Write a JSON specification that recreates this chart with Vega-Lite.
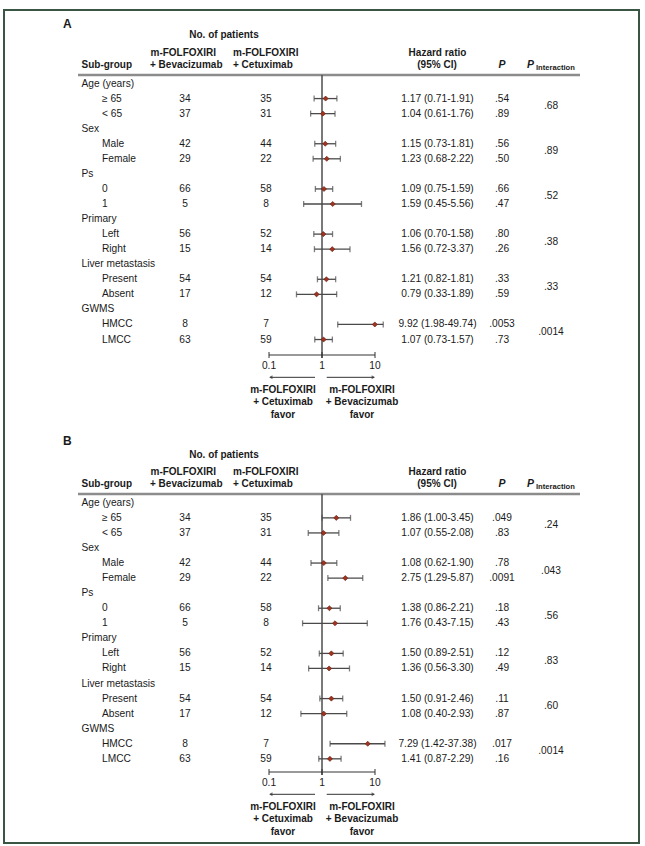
{
"$schema":"https://vega.github.io/schema/vega-lite/v6.json",
"width":635,"height":833,
"autosize":{"type":"none"},
"padding":{"left":4,"top":10,"right":6,"bottom":3},
"background":"white",
"config":{"view":{"stroke":"#3b5545","strokeWidth":2},"axis":{"disable":true},"legend":{"disable":true},
 "text":{"font":"Liberation Sans","fontSize":10.2,"color":"#1a1a1a","baseline":"middle"}},
"datasets":{
"ticks":[{"v":0.1,"t":"0.1"},{"v":1,"t":"1"},{"v":10,"t":"10"}],
"rows":[
{"panel":"A","row":1,"kind":"group","label":"Age (years)"},
{"panel":"A","row":2,"kind":"item","g":"age","label":"≥ 65","nb":34,"nc":35,"hr":1.17,"lo":0.71,"hi":1.91,"hip":1.91,"ci":"1.17 (0.71-1.91)","p":".54","pint":".68"},
{"panel":"A","row":3,"kind":"item","g":"age","label":"< 65","nb":37,"nc":31,"hr":1.04,"lo":0.61,"hi":1.76,"hip":1.76,"ci":"1.04 (0.61-1.76)","p":".89","pint":".68"},
{"panel":"A","row":4,"kind":"group","label":"Sex"},
{"panel":"A","row":5,"kind":"item","g":"sex","label":"Male","nb":42,"nc":44,"hr":1.15,"lo":0.73,"hi":1.81,"hip":1.81,"ci":"1.15 (0.73-1.81)","p":".56","pint":".89"},
{"panel":"A","row":6,"kind":"item","g":"sex","label":"Female","nb":29,"nc":22,"hr":1.23,"lo":0.68,"hi":2.22,"hip":2.22,"ci":"1.23 (0.68-2.22)","p":".50","pint":".89"},
{"panel":"A","row":7,"kind":"group","label":"Ps"},
{"panel":"A","row":8,"kind":"item","g":"ps","label":"0","nb":66,"nc":58,"hr":1.09,"lo":0.75,"hi":1.59,"hip":1.59,"ci":"1.09 (0.75-1.59)","p":".66","pint":".52"},
{"panel":"A","row":9,"kind":"item","g":"ps","label":"1","nb":5,"nc":8,"hr":1.59,"lo":0.45,"hi":5.56,"hip":5.56,"ci":"1.59 (0.45-5.56)","p":".47","pint":".52"},
{"panel":"A","row":10,"kind":"group","label":"Primary"},
{"panel":"A","row":11,"kind":"item","g":"prim","label":"Left","nb":56,"nc":52,"hr":1.06,"lo":0.70,"hi":1.58,"hip":1.58,"ci":"1.06 (0.70-1.58)","p":".80","pint":".38"},
{"panel":"A","row":12,"kind":"item","g":"prim","label":"Right","nb":15,"nc":14,"hr":1.56,"lo":0.72,"hi":3.37,"hip":3.37,"ci":"1.56 (0.72-3.37)","p":".26","pint":".38"},
{"panel":"A","row":13,"kind":"group","label":"Liver metastasis"},
{"panel":"A","row":14,"kind":"item","g":"liver","label":"Present","nb":54,"nc":54,"hr":1.21,"lo":0.82,"hi":1.81,"hip":1.81,"ci":"1.21 (0.82-1.81)","p":".33","pint":".33"},
{"panel":"A","row":15,"kind":"item","g":"liver","label":"Absent","nb":17,"nc":12,"hr":0.79,"lo":0.33,"hi":1.89,"hip":1.89,"ci":"0.79 (0.33-1.89)","p":".59","pint":".33"},
{"panel":"A","row":16,"kind":"group","label":"GWMS"},
{"panel":"A","row":17,"kind":"item","g":"gwms","label":"HMCC","nb":8,"nc":7,"hr":9.92,"lo":1.98,"hi":49.74,"hip":14.3,"ci":"9.92 (1.98-49.74)","p":".0053","pint":".0014"},
{"panel":"A","row":18,"kind":"item","g":"gwms","label":"LMCC","nb":63,"nc":59,"hr":1.07,"lo":0.73,"hi":1.57,"hip":1.57,"ci":"1.07 (0.73-1.57)","p":".73","pint":".0014"},
{"panel":"B","row":1,"kind":"group","label":"Age (years)"},
{"panel":"B","row":2,"kind":"item","g":"age","label":"≥ 65","nb":34,"nc":35,"hr":1.86,"lo":1.00,"hi":3.45,"hip":3.45,"ci":"1.86 (1.00-3.45)","p":".049","pint":".24"},
{"panel":"B","row":3,"kind":"item","g":"age","label":"< 65","nb":37,"nc":31,"hr":1.07,"lo":0.55,"hi":2.08,"hip":2.08,"ci":"1.07 (0.55-2.08)","p":".83","pint":".24"},
{"panel":"B","row":4,"kind":"group","label":"Sex"},
{"panel":"B","row":5,"kind":"item","g":"sex","label":"Male","nb":42,"nc":44,"hr":1.08,"lo":0.62,"hi":1.90,"hip":1.90,"ci":"1.08 (0.62-1.90)","p":".78","pint":".043"},
{"panel":"B","row":6,"kind":"item","g":"sex","label":"Female","nb":29,"nc":22,"hr":2.75,"lo":1.29,"hi":5.87,"hip":5.87,"ci":"2.75 (1.29-5.87)","p":".0091","pint":".043"},
{"panel":"B","row":7,"kind":"group","label":"Ps"},
{"panel":"B","row":8,"kind":"item","g":"ps","label":"0","nb":66,"nc":58,"hr":1.38,"lo":0.86,"hi":2.21,"hip":2.21,"ci":"1.38 (0.86-2.21)","p":".18","pint":".56"},
{"panel":"B","row":9,"kind":"item","g":"ps","label":"1","nb":5,"nc":8,"hr":1.76,"lo":0.43,"hi":7.15,"hip":7.15,"ci":"1.76 (0.43-7.15)","p":".43","pint":".56"},
{"panel":"B","row":10,"kind":"group","label":"Primary"},
{"panel":"B","row":11,"kind":"item","g":"prim","label":"Left","nb":56,"nc":52,"hr":1.50,"lo":0.89,"hi":2.51,"hip":2.51,"ci":"1.50 (0.89-2.51)","p":".12","pint":".83"},
{"panel":"B","row":12,"kind":"item","g":"prim","label":"Right","nb":15,"nc":14,"hr":1.36,"lo":0.56,"hi":3.30,"hip":3.30,"ci":"1.36 (0.56-3.30)","p":".49","pint":".83"},
{"panel":"B","row":13,"kind":"group","label":"Liver metastasis"},
{"panel":"B","row":14,"kind":"item","g":"liver","label":"Present","nb":54,"nc":54,"hr":1.50,"lo":0.91,"hi":2.46,"hip":2.46,"ci":"1.50 (0.91-2.46)","p":".11","pint":".60"},
{"panel":"B","row":15,"kind":"item","g":"liver","label":"Absent","nb":17,"nc":12,"hr":1.08,"lo":0.40,"hi":2.93,"hip":2.93,"ci":"1.08 (0.40-2.93)","p":".87","pint":".60"},
{"panel":"B","row":16,"kind":"group","label":"GWMS"},
{"panel":"B","row":17,"kind":"item","g":"gwms","label":"HMCC","nb":8,"nc":7,"hr":7.29,"lo":1.42,"hi":37.38,"hip":15.4,"ci":"7.29 (1.42-37.38)","p":".017","pint":".0014"},
{"panel":"B","row":18,"kind":"item","g":"gwms","label":"LMCC","nb":63,"nc":59,"hr":1.41,"lo":0.87,"hi":2.29,"hip":2.29,"ci":"1.41 (0.87-2.29)","p":".16","pint":".0014"}
]},
"layer":[
{
"layer":[
{"layer":[
{"data":{"values":[{}]},"mark":{"type":"text","text":"A","align":"left","fontWeight":"bold","fontSize":12},"encoding":{"x":{"datum":63,"type":"quantitative","scale":{"domain":[4,639],"nice":false}},"y":{"datum":-2.984,"type":"quantitative","scale":{"domain":[-3.881,51.431],"reverse":true,"nice":false}}}},
{"data":{"values":[{}]},"mark":{"type":"text","text":"No. of patients","align":"center","fontWeight":"bold","fontSize":10},"encoding":{"x":{"datum":224,"type":"quantitative","scale":{"domain":[4,639],"nice":false}},"y":{"datum":-2.220,"type":"quantitative","scale":{"domain":[-3.881,51.431],"reverse":true,"nice":false}}}},
{"data":{"values":[{}]},"mark":{"type":"text","text":"m-FOLFOXIRI","align":"left","fontWeight":"bold","fontSize":10},"encoding":{"x":{"datum":150.5,"type":"quantitative","scale":{"domain":[4,639],"nice":false}},"y":{"datum":-1.058,"type":"quantitative","scale":{"domain":[-3.881,51.431],"reverse":true,"nice":false}}}},
{"data":{"values":[{}]},"mark":{"type":"text","text":"m-FOLFOXIRI","align":"left","fontWeight":"bold","fontSize":10},"encoding":{"x":{"datum":233,"type":"quantitative","scale":{"domain":[4,639],"nice":false}},"y":{"datum":-1.058,"type":"quantitative","scale":{"domain":[-3.881,51.431],"reverse":true,"nice":false}}}},
{"data":{"values":[{}]},"mark":{"type":"text","text":"Hazard ratio","align":"center","fontWeight":"bold","fontSize":10},"encoding":{"x":{"datum":437.5,"type":"quantitative","scale":{"domain":[4,639],"nice":false}},"y":{"datum":-1.058,"type":"quantitative","scale":{"domain":[-3.881,51.431],"reverse":true,"nice":false}}}},
{"data":{"values":[{}]},"mark":{"type":"text","text":"Sub-group","align":"left","fontWeight":"bold","fontSize":10},"encoding":{"x":{"datum":81.5,"type":"quantitative","scale":{"domain":[4,639],"nice":false}},"y":{"datum":-0.262,"type":"quantitative","scale":{"domain":[-3.881,51.431],"reverse":true,"nice":false}}}},
{"data":{"values":[{}]},"mark":{"type":"text","text":"+ Bevacizumab","align":"left","fontWeight":"bold","fontSize":10},"encoding":{"x":{"datum":150,"type":"quantitative","scale":{"domain":[4,639],"nice":false}},"y":{"datum":-0.262,"type":"quantitative","scale":{"domain":[-3.881,51.431],"reverse":true,"nice":false}}}},
{"data":{"values":[{}]},"mark":{"type":"text","text":"+ Cetuximab","align":"left","fontWeight":"bold","fontSize":10},"encoding":{"x":{"datum":233,"type":"quantitative","scale":{"domain":[4,639],"nice":false}},"y":{"datum":-0.262,"type":"quantitative","scale":{"domain":[-3.881,51.431],"reverse":true,"nice":false}}}},
{"data":{"values":[{}]},"mark":{"type":"text","text":"(95% CI)","align":"center","fontWeight":"bold","fontSize":10},"encoding":{"x":{"datum":437,"type":"quantitative","scale":{"domain":[4,639],"nice":false}},"y":{"datum":-0.262,"type":"quantitative","scale":{"domain":[-3.881,51.431],"reverse":true,"nice":false}}}},
{"data":{"values":[{}]},"mark":{"type":"text","text":"P","align":"center","fontWeight":"bold","fontStyle":"italic","fontSize":10.5},"encoding":{"x":{"datum":502,"type":"quantitative","scale":{"domain":[4,639],"nice":false}},"y":{"datum":-0.262,"type":"quantitative","scale":{"domain":[-3.881,51.431],"reverse":true,"nice":false}}}},
{"data":{"values":[{}]},"mark":{"type":"text","text":"P","align":"left","fontWeight":"bold","fontStyle":"italic","fontSize":10.5},"encoding":{"x":{"datum":527,"type":"quantitative","scale":{"domain":[4,639],"nice":false}},"y":{"datum":-0.262,"type":"quantitative","scale":{"domain":[-3.881,51.431],"reverse":true,"nice":false}}}},
{"data":{"values":[{}]},"mark":{"type":"text","text":"Interaction","align":"left","fontWeight":"bold","fontSize":7.6},"encoding":{"x":{"datum":536,"type":"quantitative","scale":{"domain":[4,639],"nice":false}},"y":{"datum":-0.062,"type":"quantitative","scale":{"domain":[-3.881,51.431],"reverse":true,"nice":false}}}},
{"data":{"values":[{}]},"mark":{"type":"rule","color":"#8c8c8c","strokeWidth":2.5},"encoding":{"x":{"datum":78,"type":"quantitative","scale":{"domain":[4,639],"nice":false}},"x2":{"datum":580},"y":{"datum":0.436,"type":"quantitative","scale":{"domain":[-3.881,51.431],"reverse":true,"nice":false}}}},
{"data":{"values":[{}]},"mark":{"type":"text","text":"m-FOLFOXIRI","align":"center","fontWeight":"bold","fontSize":10},"encoding":{"x":{"datum":283,"type":"quantitative","scale":{"domain":[4,639],"nice":false}},"y":{"datum":21.352,"type":"quantitative","scale":{"domain":[-3.881,51.431],"reverse":true,"nice":false}}}},
{"data":{"values":[{}]},"mark":{"type":"text","text":"+ Cetuximab","align":"center","fontWeight":"bold","fontSize":10},"encoding":{"x":{"datum":283,"type":"quantitative","scale":{"domain":[4,639],"nice":false}},"y":{"datum":22.149,"type":"quantitative","scale":{"domain":[-3.881,51.431],"reverse":true,"nice":false}}}},
{"data":{"values":[{}]},"mark":{"type":"text","text":"favor","align":"center","fontWeight":"bold","fontSize":10},"encoding":{"x":{"datum":283,"type":"quantitative","scale":{"domain":[4,639],"nice":false}},"y":{"datum":22.979,"type":"quantitative","scale":{"domain":[-3.881,51.431],"reverse":true,"nice":false}}}},
{"data":{"values":[{}]},"mark":{"type":"text","text":"m-FOLFOXIRI","align":"center","fontWeight":"bold","fontSize":10},"encoding":{"x":{"datum":362,"type":"quantitative","scale":{"domain":[4,639],"nice":false}},"y":{"datum":21.352,"type":"quantitative","scale":{"domain":[-3.881,51.431],"reverse":true,"nice":false}}}},
{"data":{"values":[{}]},"mark":{"type":"text","text":"+ Bevacizumab","align":"center","fontWeight":"bold","fontSize":10},"encoding":{"x":{"datum":362,"type":"quantitative","scale":{"domain":[4,639],"nice":false}},"y":{"datum":22.149,"type":"quantitative","scale":{"domain":[-3.881,51.431],"reverse":true,"nice":false}}}},
{"data":{"values":[{}]},"mark":{"type":"text","text":"favor","align":"center","fontWeight":"bold","fontSize":10},"encoding":{"x":{"datum":362,"type":"quantitative","scale":{"domain":[4,639],"nice":false}},"y":{"datum":22.979,"type":"quantitative","scale":{"domain":[-3.881,51.431],"reverse":true,"nice":false}}}},
{"data":{"name":"rows"},"transform":[{"filter":"datum.panel==='A' && datum.kind==='group'"}],"mark":{"type":"text","align":"left"},"encoding":{"x":{"datum":81.5,"type":"quantitative","scale":{"domain":[4,639],"nice":false}},"y":{"field":"row","type":"quantitative","scale":{"domain":[-3.881,51.431],"reverse":true,"nice":false}},"text":{"field":"label"}}},
{"data":{"name":"rows"},"transform":[{"filter":"datum.panel==='A' && datum.kind==='item'"}],"mark":{"type":"text","align":"left"},"encoding":{"x":{"datum":102,"type":"quantitative","scale":{"domain":[4,639],"nice":false}},"y":{"field":"row","type":"quantitative","scale":{"domain":[-3.881,51.431],"reverse":true,"nice":false}},"text":{"field":"label"}}},
{"data":{"name":"rows"},"transform":[{"filter":"datum.panel==='A' && datum.kind==='item'"}],"mark":{"type":"text","align":"center"},"encoding":{"x":{"datum":185,"type":"quantitative","scale":{"domain":[4,639],"nice":false}},"y":{"field":"row","type":"quantitative","scale":{"domain":[-3.881,51.431],"reverse":true,"nice":false}},"text":{"field":"nb"}}},
{"data":{"name":"rows"},"transform":[{"filter":"datum.panel==='A' && datum.kind==='item'"}],"mark":{"type":"text","align":"center"},"encoding":{"x":{"datum":266,"type":"quantitative","scale":{"domain":[4,639],"nice":false}},"y":{"field":"row","type":"quantitative","scale":{"domain":[-3.881,51.431],"reverse":true,"nice":false}},"text":{"field":"nc"}}},
{"data":{"name":"rows"},"transform":[{"filter":"datum.panel==='A' && datum.kind==='item'"}],"mark":{"type":"text","align":"center"},"encoding":{"x":{"datum":437.5,"type":"quantitative","scale":{"domain":[4,639],"nice":false}},"y":{"field":"row","type":"quantitative","scale":{"domain":[-3.881,51.431],"reverse":true,"nice":false}},"text":{"field":"ci"}}},
{"data":{"name":"rows"},"transform":[{"filter":"datum.panel==='A' && datum.kind==='item'"}],"mark":{"type":"text","align":"center"},"encoding":{"x":{"datum":502,"type":"quantitative","scale":{"domain":[4,639],"nice":false}},"y":{"field":"row","type":"quantitative","scale":{"domain":[-3.881,51.431],"reverse":true,"nice":false}},"text":{"field":"p"}}},
{"data":{"name":"rows"},"transform":[{"filter":"datum.panel==='A' && datum.kind==='item'"},{"aggregate":[{"op":"mean","field":"row","as":"row"}],"groupby":["g","pint"]}],"mark":{"type":"text","align":"center"},"encoding":{"x":{"datum":551,"type":"quantitative","scale":{"domain":[4,639],"nice":false}},"y":{"field":"row","type":"quantitative","scale":{"domain":[-3.881,51.431],"reverse":true,"nice":false}},"text":{"field":"pint"}}}
]},
{"layer":[
{"data":{"values":[{}]},"mark":{"type":"rule","color":"#4d4d4d","strokeWidth":1.5},"encoding":{"x":{"datum":1,"type":"quantitative","scale":{"type":"log","domain":[0.000001,957000],"nice":false}},"y":{"datum":0.436,"type":"quantitative","scale":{"domain":[-3.881,51.431],"reverse":true,"nice":false}},"y2":{"datum":19.227}}},
{"data":{"values":[{}]},"mark":{"type":"rule","color":"#333","strokeWidth":1},"encoding":{"x":{"datum":0.1,"type":"quantitative","scale":{"type":"log","domain":[0.000001,957000],"nice":false}},"x2":{"datum":10},"y":{"datum":19.028,"type":"quantitative","scale":{"domain":[-3.881,51.431],"reverse":true,"nice":false}}}},
{"data":{"name":"ticks"},"mark":{"type":"rule","color":"#333","strokeWidth":1},"encoding":{"x":{"field":"v","type":"quantitative","scale":{"type":"log","domain":[0.000001,957000],"nice":false}},"y":{"datum":18.829,"type":"quantitative","scale":{"domain":[-3.881,51.431],"reverse":true,"nice":false}},"y2":{"datum":19.227}}},
{"data":{"name":"ticks"},"mark":{"type":"text","align":"center"},"encoding":{"x":{"field":"v","type":"quantitative","scale":{"type":"log","domain":[0.000001,957000],"nice":false}},"y":{"datum":19.758,"type":"quantitative","scale":{"domain":[-3.881,51.431],"reverse":true,"nice":false}},"text":{"field":"t"}}},
{"data":{"values":[{}]},"mark":{"type":"rule","color":"#333","strokeWidth":1},"encoding":{"x":{"datum":0.105,"type":"quantitative","scale":{"type":"log","domain":[0.000001,957000],"nice":false}},"x2":{"datum":0.738},"y":{"datum":20.509,"type":"quantitative","scale":{"domain":[-3.881,51.431],"reverse":true,"nice":false}}}},
{"data":{"values":[{}]},"mark":{"type":"rule","color":"#333","strokeWidth":1},"encoding":{"x":{"datum":1.227,"type":"quantitative","scale":{"type":"log","domain":[0.000001,957000],"nice":false}},"x2":{"datum":9.6},"y":{"datum":20.509,"type":"quantitative","scale":{"domain":[-3.881,51.431],"reverse":true,"nice":false}}}},
{"data":{"values":[{}]},"mark":{"type":"point","shape":"triangle-left","filled":true,"size":16,"color":"#333"},"encoding":{"x":{"datum":0.108,"type":"quantitative","scale":{"type":"log","domain":[0.000001,957000],"nice":false}},"y":{"datum":20.509,"type":"quantitative","scale":{"domain":[-3.881,51.431],"reverse":true,"nice":false}}}},
{"data":{"values":[{}]},"mark":{"type":"point","shape":"triangle-right","filled":true,"size":16,"color":"#333"},"encoding":{"x":{"datum":9.3,"type":"quantitative","scale":{"type":"log","domain":[0.000001,957000],"nice":false}},"y":{"datum":20.509,"type":"quantitative","scale":{"domain":[-3.881,51.431],"reverse":true,"nice":false}}}},
{"data":{"name":"rows"},"transform":[{"filter":"datum.panel==='A' && datum.kind==='item'"}],"mark":{"type":"rule","color":"#4a4a4a","strokeWidth":1.3},"encoding":{"x":{"field":"lo","type":"quantitative","scale":{"type":"log","domain":[0.000001,957000],"nice":false}},"x2":{"field":"hip"},"y":{"field":"row","type":"quantitative","scale":{"domain":[-3.881,51.431],"reverse":true,"nice":false}}}},
{"data":{"name":"rows"},"transform":[{"filter":"datum.panel==='A' && datum.kind==='item'"}],"mark":{"type":"tick","orient":"vertical","size":6,"thickness":1.3,"color":"#4a4a4a"},"encoding":{"x":{"field":"lo","type":"quantitative","scale":{"type":"log","domain":[0.000001,957000],"nice":false}},"y":{"field":"row","type":"quantitative","scale":{"domain":[-3.881,51.431],"reverse":true,"nice":false}}}},
{"data":{"name":"rows"},"transform":[{"filter":"datum.panel==='A' && datum.kind==='item'"}],"mark":{"type":"tick","orient":"vertical","size":6,"thickness":1.3,"color":"#4a4a4a"},"encoding":{"x":{"field":"hip","type":"quantitative","scale":{"type":"log","domain":[0.000001,957000],"nice":false}},"y":{"field":"row","type":"quantitative","scale":{"domain":[-3.881,51.431],"reverse":true,"nice":false}}}},
{"data":{"name":"rows"},"transform":[{"filter":"datum.panel==='A' && datum.kind==='item'"}],"mark":{"type":"point","shape":"diamond","filled":true,"size":26,"color":"#a3321f","stroke":"#5b1d10","strokeWidth":0.6,"opacity":1},"encoding":{"x":{"field":"hr","type":"quantitative","scale":{"type":"log","domain":[0.000001,957000],"nice":false}},"y":{"field":"row","type":"quantitative","scale":{"domain":[-3.881,51.431],"reverse":true,"nice":false}}}}
]}
],
"resolve":{"scale":{"x":"independent"}}
},
{
"layer":[
{"layer":[
{"data":{"values":[{}]},"mark":{"type":"text","text":"B","align":"left","fontWeight":"bold","fontSize":12},"encoding":{"x":{"datum":63,"type":"quantitative","scale":{"domain":[4,639],"nice":false}},"y":{"datum":-3.104,"type":"quantitative","scale":{"domain":[-31.723,23.589],"reverse":true,"nice":false}}}},
{"data":{"values":[{}]},"mark":{"type":"text","text":"No. of patients","align":"center","fontWeight":"bold","fontSize":10},"encoding":{"x":{"datum":224,"type":"quantitative","scale":{"domain":[4,639],"nice":false}},"y":{"datum":-2.174,"type":"quantitative","scale":{"domain":[-31.723,23.589],"reverse":true,"nice":false}}}},
{"data":{"values":[{}]},"mark":{"type":"text","text":"m-FOLFOXIRI","align":"left","fontWeight":"bold","fontSize":10},"encoding":{"x":{"datum":150.5,"type":"quantitative","scale":{"domain":[4,639],"nice":false}},"y":{"datum":-1.078,"type":"quantitative","scale":{"domain":[-31.723,23.589],"reverse":true,"nice":false}}}},
{"data":{"values":[{}]},"mark":{"type":"text","text":"m-FOLFOXIRI","align":"left","fontWeight":"bold","fontSize":10},"encoding":{"x":{"datum":233,"type":"quantitative","scale":{"domain":[4,639],"nice":false}},"y":{"datum":-1.078,"type":"quantitative","scale":{"domain":[-31.723,23.589],"reverse":true,"nice":false}}}},
{"data":{"values":[{}]},"mark":{"type":"text","text":"Hazard ratio","align":"center","fontWeight":"bold","fontSize":10},"encoding":{"x":{"datum":437.5,"type":"quantitative","scale":{"domain":[4,639],"nice":false}},"y":{"datum":-1.078,"type":"quantitative","scale":{"domain":[-31.723,23.589],"reverse":true,"nice":false}}}},
{"data":{"values":[{}]},"mark":{"type":"text","text":"Sub-group","align":"left","fontWeight":"bold","fontSize":10},"encoding":{"x":{"datum":81.5,"type":"quantitative","scale":{"domain":[4,639],"nice":false}},"y":{"datum":-0.248,"type":"quantitative","scale":{"domain":[-31.723,23.589],"reverse":true,"nice":false}}}},
{"data":{"values":[{}]},"mark":{"type":"text","text":"+ Bevacizumab","align":"left","fontWeight":"bold","fontSize":10},"encoding":{"x":{"datum":150,"type":"quantitative","scale":{"domain":[4,639],"nice":false}},"y":{"datum":-0.248,"type":"quantitative","scale":{"domain":[-31.723,23.589],"reverse":true,"nice":false}}}},
{"data":{"values":[{}]},"mark":{"type":"text","text":"+ Cetuximab","align":"left","fontWeight":"bold","fontSize":10},"encoding":{"x":{"datum":233,"type":"quantitative","scale":{"domain":[4,639],"nice":false}},"y":{"datum":-0.248,"type":"quantitative","scale":{"domain":[-31.723,23.589],"reverse":true,"nice":false}}}},
{"data":{"values":[{}]},"mark":{"type":"text","text":"(95% CI)","align":"center","fontWeight":"bold","fontSize":10},"encoding":{"x":{"datum":437,"type":"quantitative","scale":{"domain":[4,639],"nice":false}},"y":{"datum":-0.248,"type":"quantitative","scale":{"domain":[-31.723,23.589],"reverse":true,"nice":false}}}},
{"data":{"values":[{}]},"mark":{"type":"text","text":"P","align":"center","fontWeight":"bold","fontStyle":"italic","fontSize":10.5},"encoding":{"x":{"datum":502,"type":"quantitative","scale":{"domain":[4,639],"nice":false}},"y":{"datum":-0.248,"type":"quantitative","scale":{"domain":[-31.723,23.589],"reverse":true,"nice":false}}}},
{"data":{"values":[{}]},"mark":{"type":"text","text":"P","align":"left","fontWeight":"bold","fontStyle":"italic","fontSize":10.5},"encoding":{"x":{"datum":527,"type":"quantitative","scale":{"domain":[4,639],"nice":false}},"y":{"datum":-0.248,"type":"quantitative","scale":{"domain":[-31.723,23.589],"reverse":true,"nice":false}}}},
{"data":{"values":[{}]},"mark":{"type":"text","text":"Interaction","align":"left","fontWeight":"bold","fontSize":7.6},"encoding":{"x":{"datum":536,"type":"quantitative","scale":{"domain":[4,639],"nice":false}},"y":{"datum":-0.049,"type":"quantitative","scale":{"domain":[-31.723,23.589],"reverse":true,"nice":false}}}},
{"data":{"values":[{}]},"mark":{"type":"rule","color":"#8c8c8c","strokeWidth":2.5},"encoding":{"x":{"datum":78,"type":"quantitative","scale":{"domain":[4,639],"nice":false}},"x2":{"datum":580},"y":{"datum":0.416,"type":"quantitative","scale":{"domain":[-31.723,23.589],"reverse":true,"nice":false}}}},
{"data":{"values":[{}]},"mark":{"type":"text","text":"m-FOLFOXIRI","align":"center","fontWeight":"bold","fontSize":10},"encoding":{"x":{"datum":283,"type":"quantitative","scale":{"domain":[4,639],"nice":false}},"y":{"datum":21.199,"type":"quantitative","scale":{"domain":[-31.723,23.589],"reverse":true,"nice":false}}}},
{"data":{"values":[{}]},"mark":{"type":"text","text":"+ Cetuximab","align":"center","fontWeight":"bold","fontSize":10},"encoding":{"x":{"datum":283,"type":"quantitative","scale":{"domain":[4,639],"nice":false}},"y":{"datum":21.996,"type":"quantitative","scale":{"domain":[-31.723,23.589],"reverse":true,"nice":false}}}},
{"data":{"values":[{}]},"mark":{"type":"text","text":"favor","align":"center","fontWeight":"bold","fontSize":10},"encoding":{"x":{"datum":283,"type":"quantitative","scale":{"domain":[4,639],"nice":false}},"y":{"datum":22.826,"type":"quantitative","scale":{"domain":[-31.723,23.589],"reverse":true,"nice":false}}}},
{"data":{"values":[{}]},"mark":{"type":"text","text":"m-FOLFOXIRI","align":"center","fontWeight":"bold","fontSize":10},"encoding":{"x":{"datum":362,"type":"quantitative","scale":{"domain":[4,639],"nice":false}},"y":{"datum":21.199,"type":"quantitative","scale":{"domain":[-31.723,23.589],"reverse":true,"nice":false}}}},
{"data":{"values":[{}]},"mark":{"type":"text","text":"+ Bevacizumab","align":"center","fontWeight":"bold","fontSize":10},"encoding":{"x":{"datum":362,"type":"quantitative","scale":{"domain":[4,639],"nice":false}},"y":{"datum":21.996,"type":"quantitative","scale":{"domain":[-31.723,23.589],"reverse":true,"nice":false}}}},
{"data":{"values":[{}]},"mark":{"type":"text","text":"favor","align":"center","fontWeight":"bold","fontSize":10},"encoding":{"x":{"datum":362,"type":"quantitative","scale":{"domain":[4,639],"nice":false}},"y":{"datum":22.826,"type":"quantitative","scale":{"domain":[-31.723,23.589],"reverse":true,"nice":false}}}},
{"data":{"name":"rows"},"transform":[{"filter":"datum.panel==='B' && datum.kind==='group'"}],"mark":{"type":"text","align":"left"},"encoding":{"x":{"datum":81.5,"type":"quantitative","scale":{"domain":[4,639],"nice":false}},"y":{"field":"row","type":"quantitative","scale":{"domain":[-31.723,23.589],"reverse":true,"nice":false}},"text":{"field":"label"}}},
{"data":{"name":"rows"},"transform":[{"filter":"datum.panel==='B' && datum.kind==='item'"}],"mark":{"type":"text","align":"left"},"encoding":{"x":{"datum":102,"type":"quantitative","scale":{"domain":[4,639],"nice":false}},"y":{"field":"row","type":"quantitative","scale":{"domain":[-31.723,23.589],"reverse":true,"nice":false}},"text":{"field":"label"}}},
{"data":{"name":"rows"},"transform":[{"filter":"datum.panel==='B' && datum.kind==='item'"}],"mark":{"type":"text","align":"center"},"encoding":{"x":{"datum":185,"type":"quantitative","scale":{"domain":[4,639],"nice":false}},"y":{"field":"row","type":"quantitative","scale":{"domain":[-31.723,23.589],"reverse":true,"nice":false}},"text":{"field":"nb"}}},
{"data":{"name":"rows"},"transform":[{"filter":"datum.panel==='B' && datum.kind==='item'"}],"mark":{"type":"text","align":"center"},"encoding":{"x":{"datum":266,"type":"quantitative","scale":{"domain":[4,639],"nice":false}},"y":{"field":"row","type":"quantitative","scale":{"domain":[-31.723,23.589],"reverse":true,"nice":false}},"text":{"field":"nc"}}},
{"data":{"name":"rows"},"transform":[{"filter":"datum.panel==='B' && datum.kind==='item'"}],"mark":{"type":"text","align":"center"},"encoding":{"x":{"datum":437.5,"type":"quantitative","scale":{"domain":[4,639],"nice":false}},"y":{"field":"row","type":"quantitative","scale":{"domain":[-31.723,23.589],"reverse":true,"nice":false}},"text":{"field":"ci"}}},
{"data":{"name":"rows"},"transform":[{"filter":"datum.panel==='B' && datum.kind==='item'"}],"mark":{"type":"text","align":"center"},"encoding":{"x":{"datum":502,"type":"quantitative","scale":{"domain":[4,639],"nice":false}},"y":{"field":"row","type":"quantitative","scale":{"domain":[-31.723,23.589],"reverse":true,"nice":false}},"text":{"field":"p"}}},
{"data":{"name":"rows"},"transform":[{"filter":"datum.panel==='B' && datum.kind==='item'"},{"aggregate":[{"op":"mean","field":"row","as":"row"}],"groupby":["g","pint"]}],"mark":{"type":"text","align":"center"},"encoding":{"x":{"datum":551,"type":"quantitative","scale":{"domain":[4,639],"nice":false}},"y":{"field":"row","type":"quantitative","scale":{"domain":[-31.723,23.589],"reverse":true,"nice":false}},"text":{"field":"pint"}}}
]},
{"layer":[
{"data":{"values":[{}]},"mark":{"type":"rule","color":"#4d4d4d","strokeWidth":1.5},"encoding":{"x":{"datum":1,"type":"quantitative","scale":{"type":"log","domain":[0.000001,957000],"nice":false}},"y":{"datum":0.416,"type":"quantitative","scale":{"domain":[-31.723,23.589],"reverse":true,"nice":false}},"y2":{"datum":19.074}}},
{"data":{"values":[{}]},"mark":{"type":"rule","color":"#333","strokeWidth":1},"encoding":{"x":{"datum":0.1,"type":"quantitative","scale":{"type":"log","domain":[0.000001,957000],"nice":false}},"x2":{"datum":10},"y":{"datum":18.875,"type":"quantitative","scale":{"domain":[-31.723,23.589],"reverse":true,"nice":false}}}},
{"data":{"name":"ticks"},"mark":{"type":"rule","color":"#333","strokeWidth":1},"encoding":{"x":{"field":"v","type":"quantitative","scale":{"type":"log","domain":[0.000001,957000],"nice":false}},"y":{"datum":18.676,"type":"quantitative","scale":{"domain":[-31.723,23.589],"reverse":true,"nice":false}},"y2":{"datum":19.074}}},
{"data":{"name":"ticks"},"mark":{"type":"text","align":"center"},"encoding":{"x":{"field":"v","type":"quantitative","scale":{"type":"log","domain":[0.000001,957000],"nice":false}},"y":{"datum":19.606,"type":"quantitative","scale":{"domain":[-31.723,23.589],"reverse":true,"nice":false}},"text":{"field":"t"}}},
{"data":{"values":[{}]},"mark":{"type":"rule","color":"#333","strokeWidth":1},"encoding":{"x":{"datum":0.105,"type":"quantitative","scale":{"type":"log","domain":[0.000001,957000],"nice":false}},"x2":{"datum":0.738},"y":{"datum":20.356,"type":"quantitative","scale":{"domain":[-31.723,23.589],"reverse":true,"nice":false}}}},
{"data":{"values":[{}]},"mark":{"type":"rule","color":"#333","strokeWidth":1},"encoding":{"x":{"datum":1.227,"type":"quantitative","scale":{"type":"log","domain":[0.000001,957000],"nice":false}},"x2":{"datum":9.6},"y":{"datum":20.356,"type":"quantitative","scale":{"domain":[-31.723,23.589],"reverse":true,"nice":false}}}},
{"data":{"values":[{}]},"mark":{"type":"point","shape":"triangle-left","filled":true,"size":16,"color":"#333"},"encoding":{"x":{"datum":0.108,"type":"quantitative","scale":{"type":"log","domain":[0.000001,957000],"nice":false}},"y":{"datum":20.356,"type":"quantitative","scale":{"domain":[-31.723,23.589],"reverse":true,"nice":false}}}},
{"data":{"values":[{}]},"mark":{"type":"point","shape":"triangle-right","filled":true,"size":16,"color":"#333"},"encoding":{"x":{"datum":9.3,"type":"quantitative","scale":{"type":"log","domain":[0.000001,957000],"nice":false}},"y":{"datum":20.356,"type":"quantitative","scale":{"domain":[-31.723,23.589],"reverse":true,"nice":false}}}},
{"data":{"name":"rows"},"transform":[{"filter":"datum.panel==='B' && datum.kind==='item'"}],"mark":{"type":"rule","color":"#4a4a4a","strokeWidth":1.3},"encoding":{"x":{"field":"lo","type":"quantitative","scale":{"type":"log","domain":[0.000001,957000],"nice":false}},"x2":{"field":"hip"},"y":{"field":"row","type":"quantitative","scale":{"domain":[-31.723,23.589],"reverse":true,"nice":false}}}},
{"data":{"name":"rows"},"transform":[{"filter":"datum.panel==='B' && datum.kind==='item'"}],"mark":{"type":"tick","orient":"vertical","size":6,"thickness":1.3,"color":"#4a4a4a"},"encoding":{"x":{"field":"lo","type":"quantitative","scale":{"type":"log","domain":[0.000001,957000],"nice":false}},"y":{"field":"row","type":"quantitative","scale":{"domain":[-31.723,23.589],"reverse":true,"nice":false}}}},
{"data":{"name":"rows"},"transform":[{"filter":"datum.panel==='B' && datum.kind==='item'"}],"mark":{"type":"tick","orient":"vertical","size":6,"thickness":1.3,"color":"#4a4a4a"},"encoding":{"x":{"field":"hip","type":"quantitative","scale":{"type":"log","domain":[0.000001,957000],"nice":false}},"y":{"field":"row","type":"quantitative","scale":{"domain":[-31.723,23.589],"reverse":true,"nice":false}}}},
{"data":{"name":"rows"},"transform":[{"filter":"datum.panel==='B' && datum.kind==='item'"}],"mark":{"type":"point","shape":"diamond","filled":true,"size":26,"color":"#a3321f","stroke":"#5b1d10","strokeWidth":0.6,"opacity":1},"encoding":{"x":{"field":"hr","type":"quantitative","scale":{"type":"log","domain":[0.000001,957000],"nice":false}},"y":{"field":"row","type":"quantitative","scale":{"domain":[-31.723,23.589],"reverse":true,"nice":false}}}}
]}
],
"resolve":{"scale":{"x":"independent"}}
}
],
"resolve":{"scale":{"x":"independent","y":"independent"}}
}
